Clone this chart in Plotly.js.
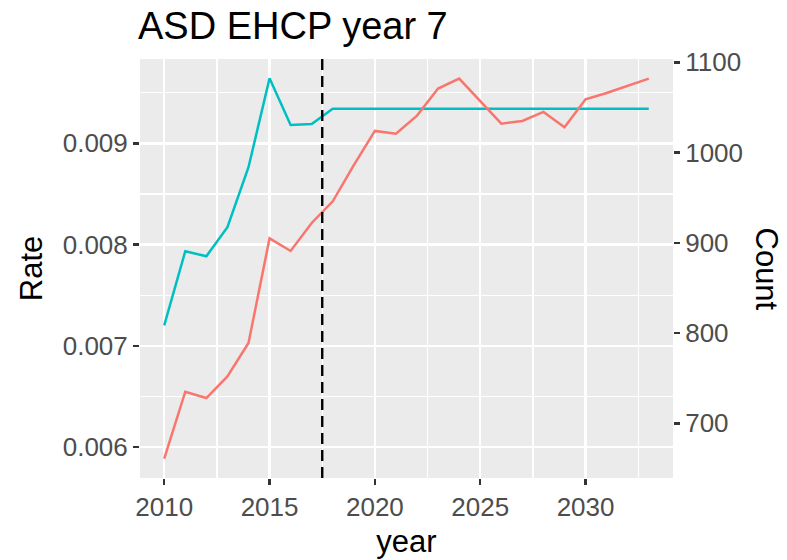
<!DOCTYPE html>
<html>
<head>
<meta charset="utf-8">
<script src="https://cdn.plot.ly/plotly-3.0.1.min.js"></script>
<style>html,body{margin:0;padding:0;background:#fff;}#chart{width:787px;height:560px;}</style>
</head>
<body>
<div id="chart"></div>
<script>
const years = [2010,2011,2012,2013,2014,2015,2016,2017,2018,2019,2020,2021,2022,2023,2024,2025,2026,2027,2028,2029,2030,2031,2032,2033];
const rate = [0.007204,0.007935,0.007885,0.008172,0.008764,0.009642,0.009181,0.009191,0.009342,0.009342,0.009342,0.009342,0.009342,0.009342,0.009342,0.009342,0.009342,0.009342,0.009342,0.009342,0.009342,0.009342,0.009342,0.009342];
const count = [661,735,728,752,789,905,891,922,946,986,1024,1021,1041,1071,1082,1057,1032,1035,1045,1028,1059,1066,1074,1082];
const cutoffYear = 2017.5;
const xTicks = [2010,2015,2020,2025,2030];
const yTicks = [0.006,0.007,0.008,0.009];
const yTickText = ['0.006','0.007','0.008','0.009'];
const y2Ticks = [700,800,900,1000,1100];

const font = 'Liberation Sans, Arial, sans-serif';
const traces = [
  {x: years, y: count, yaxis: 'y2', type: 'scatter', mode: 'lines', line: {color: '#F8766D', width: 2.5}, name: 'Count', hoverinfo: 'x+y'},
  {x: years, y: rate, yaxis: 'y', type: 'scatter', mode: 'lines', line: {color: '#00BFC4', width: 2.5}, name: 'Rate', hoverinfo: 'x+y'}
];
const tickFont = {size: 26, color: '#4D4D4D', family: font};
const layout = {
  width: 787, height: 560,
  margin: {l: 140, r: 114, t: 59, b: 82},
  paper_bgcolor: '#ffffff',
  plot_bgcolor: '#EBEBEB',
  showlegend: false,
  font: {family: font, color: '#4D4D4D'},
  title: {text: 'ASD EHCP year 7', x: 138/787, xanchor: 'left', y: 1 - 26/560, yanchor: 'middle', font: {size: 38, color: '#000', family: font}},
  xaxis: {
    range: [2008.85, 2034.15], tickvals: xTicks, ticktext: xTicks.map(String),
    showgrid: true, gridcolor: '#ffffff', gridwidth: 2.4,
    minor: {dtick: 5, tick0: 2007.5, showgrid: true, gridcolor: '#ffffff', gridwidth: 1.2, ticks: ''},
    ticks: 'outside', ticklen: 6, tickwidth: 2.4, tickcolor: '#333333',
    tickfont: tickFont, zeroline: false, showline: false,
    title: {text: 'year', font: {size: 31, color: '#000', family: font}, standoff: 9}
  },
  yaxis: {
    range: [0.005697, 0.009832], tickvals: yTicks, ticktext: yTickText,
    showgrid: true, gridcolor: '#ffffff', gridwidth: 2.4,
    minor: {dtick: 0.001, tick0: 0.0055, showgrid: true, gridcolor: '#ffffff', gridwidth: 1.2, ticks: ''},
    ticks: 'outside', ticklen: 6, tickwidth: 2.4, tickcolor: '#333333',
    tickfont: tickFont, zeroline: false, showline: false,
    title: {text: 'Rate', font: {size: 31, color: '#000', family: font}, standoff: 10}
  },
  yaxis2: {
    overlaying: 'y', side: 'right',
    range: [639.4, 1103.7], tickvals: y2Ticks, ticktext: y2Ticks.map(String),
    showgrid: false, zeroline: false, showline: false,
    ticks: 'outside', ticklen: 6, tickwidth: 2.4, tickcolor: '#333333',
    tickfont: tickFont
  },
  annotations: [
    {text: 'Count', xref: 'paper', yref: 'paper', x: (766 - 140) / (787 - 140 - 114), y: 0.5,
     xanchor: 'center', yanchor: 'middle', textangle: 90, showarrow: false,
     font: {size: 31, color: '#000', family: font}}
  ],
  shapes: [
    {type: 'line', xref: 'x', yref: 'paper', x0: cutoffYear, x1: cutoffYear, y0: 0, y1: 1, line: {color: '#000', width: 2.4, dash: '11px,6px'}}
  ]
};
Plotly.newPlot('chart', traces, layout, {displayModeBar: false, staticPlot: true});
</script>
</body>
</html>
